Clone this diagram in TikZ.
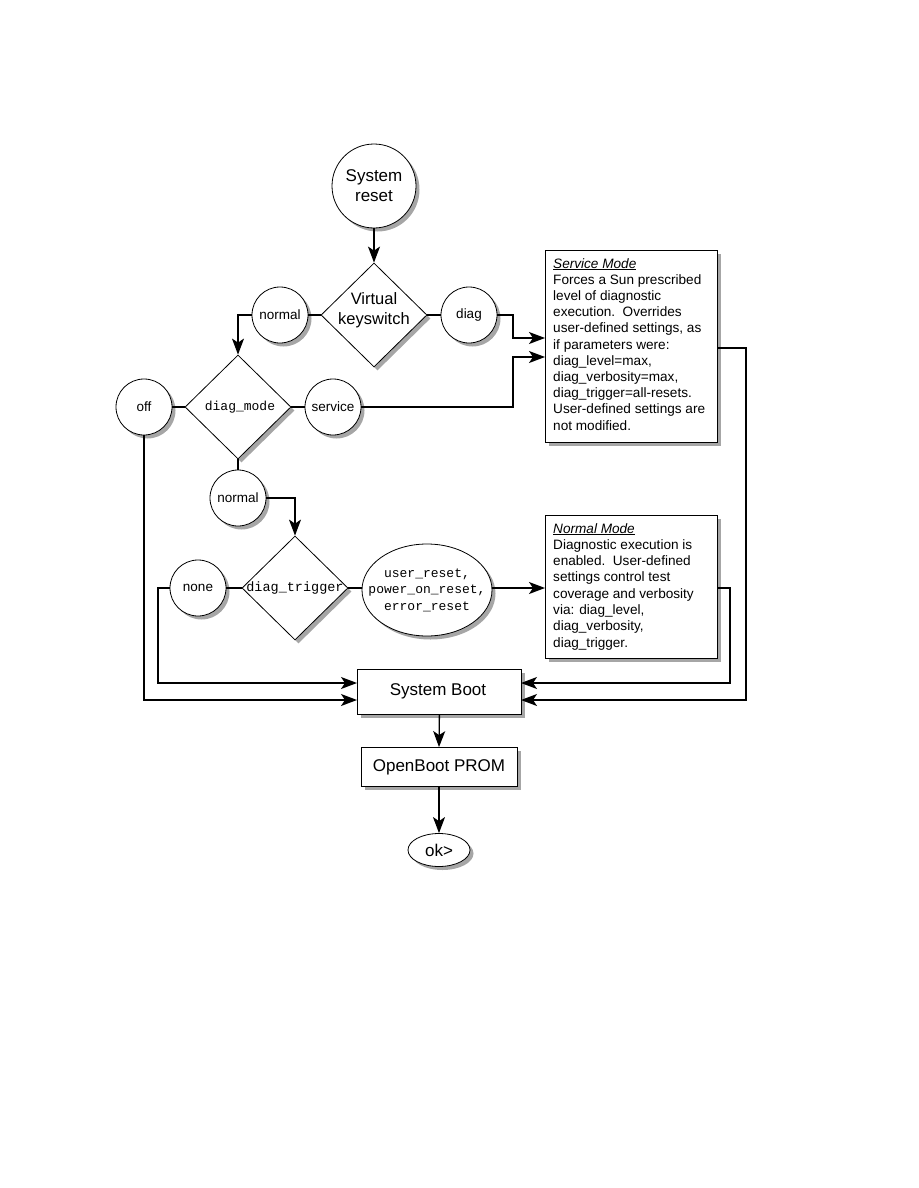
\documentclass[tikz,border=0pt]{standalone}
\usepackage{fontspec}
\setmainfont{Liberation Sans}
\setmonofont{Liberation Mono}
\usetikzlibrary{shapes.geometric,shadows,arrows.meta}
\begin{document}
\begin{tikzpicture}[x=1pt,y=-1pt,
  shad/.style={drop shadow={shadow xshift=3.5pt,shadow yshift=-3.5pt,fill=black!35,opacity=1}},
  circ/.style={circle,draw,line width=0.8pt,fill=white,inner sep=0pt,minimum size=56pt,shad,font=\fontsize{13.5}{15}\selectfont},
  dia/.style={diamond,draw,line width=0.8pt,fill=white,inner sep=0pt,minimum width=106pt,minimum height=104pt,shad},
  box/.style={rectangle,draw,line width=0.8pt,fill=white,inner sep=0pt,shad},
  lbl/.style={inner sep=0pt,align=center},
  btxt/.style={inner sep=0pt,align=left,font=\fontsize{13.6}{16.2}\selectfont},
  conn/.style={line width=1.3pt},
  arr/.style={line width=1.3pt,-{Stealth[length=16pt,width=12pt,inset=4pt]}}
]
\useasboundingbox (0,0) rectangle (918,1188);

% nodes
\node[circ,minimum size=84pt,font=\fontsize{17}{20}\selectfont,align=center] (sr) at (374,186) {System\\reset};
\node[dia] (vk) at (374,315) {};
\node[lbl,font=\fontsize{16.5}{20}\selectfont] (vkt) at (374,310) {Virtual\\keyswitch};
\node[circ] (n1) at (280,315) {normal};
\node[circ] (dg) at (469,315) {diag};

\node[dia] (dm) at (238,407) {};
\node[lbl,font=\ttfamily\fontsize{13}{15}\selectfont] (dmt) at (240,407) {diag\_mode};
\node[circ] (off) at (144,407) {off};
\node[circ] (sv) at (333,407) {service};

\node[circ] (n2) at (238,498) {normal};

\node[dia] (dt) at (295,588) {};
\node[lbl,font=\ttfamily\fontsize{13.5}{15}\selectfont] (dtt) at (295,588) {diag\_trigger};
\node[circ] (none) at (198,588) {none};
\node[ellipse,draw,line width=0.8pt,fill=white,inner sep=0pt,minimum width=130pt,minimum height=92pt,shad] (el) at (427,590) {};
\node[lbl,font=\ttfamily\fontsize{13}{16.5}\selectfont] (elt) at (427,590) {user\_reset,\\power\_on\_reset,\\error\_reset};

\node[box,anchor=north west,minimum width=172pt,minimum height=192pt] (svc) at (545,250) {};
\node[btxt,anchor=north west] (svct) at (553,258) {\underline{\textit{Service Mode}}\\
Forces a Sun prescribed\\
level of diagnostic\\
execution.\ \ Overrides\\
user-defined settings, as\\
if parameters were:\\
diag\_level=max,\\
diag\_verbosity=max,\\
diag\_trigger=all-resets.\\
User-defined settings are\\
not modified.};

\node[box,anchor=north west,minimum width=172pt,minimum height=143pt] (nm) at (545,515) {};
\node[btxt,anchor=north west,font=\fontsize{13.6}{16.3}\selectfont] (nmt) at (553,523) {\underline{\textit{Normal Mode}}\\
Diagnostic execution is\\
enabled.\ \ User-defined\\
settings control test\\
coverage and verbosity\\
via: diag\_level,\\
diag\_verbosity,\\
diag\_trigger.};

\node[box,anchor=north west,minimum width=164pt,minimum height=45pt] (sb) at (357,669) {};
\node[lbl,font=\fontsize{17}{20}\selectfont] (sbt) at (438,691) {System Boot};
\node[box,minimum width=156pt,minimum height=39pt,font=\fontsize{17}{20}\selectfont] (obp) at (439,767) {OpenBoot PROM};
\node[ellipse,draw,line width=0.8pt,fill=white,inner sep=0pt,minimum width=62pt,minimum height=33pt,shad,font=\fontsize{17}{20}\selectfont] (ok) at (439,850) {ok>};

% coordinates on box edges
\coordinate (svcin1) at (545,338);
\coordinate (svcin2) at (545,357);
\coordinate (j1) at (513,315);
\coordinate (j2) at (513,407);
\coordinate (svcout) at (717,348);
\coordinate (r1) at (746,348);
\coordinate (elout) at (492,588);
\coordinate (nmin) at (545,588);
\coordinate (nmout) at (717,588);
\coordinate (r2) at (730,588);
\coordinate (sbl1) at (357,683);
\coordinate (sbl2) at (357,700);
\coordinate (sbr1) at (521,683);
\coordinate (sbr2) at (521,700);
\coordinate (l1) at (158,588);

% connectors
\draw[arr] (sr.south) -- (vk.north);
\draw[conn] (vk.west) -- (n1.east);
\draw[conn] (vk.east) -- (dg.west);
\draw[arr] (n1.west) -| (dm.north);
\draw[arr] (dg.east) -- (j1) |- (svcin1);
\draw[conn] (dm.west) -- (off.east);
\draw[conn] (dm.east) -- (sv.west);
\draw[arr] (sv.east) -- (j2) |- (svcin2);
\draw[conn] (dm.south) -- (n2.north);
\draw[arr] (n2.east) -| (dt.north);
\draw[conn] (dt.west) -- (none.east);
\draw[conn] (dt.east) -- (el.west |- dt.east);
\draw[arr] (elout) -- (nmin);
\draw[arr] (none.west) -- (l1) |- (sbl1);
\draw[arr] (off.south) |- (sbl2);
\draw[arr] (svcout) -- (r1) |- (sbr2);
\draw[arr] (nmout) -- (r2) |- (sbr1);
\draw[arr] (sb.south) -- (obp.north);
\draw[arr] (obp.south) -- (ok.north);
\end{tikzpicture}
\end{document}
